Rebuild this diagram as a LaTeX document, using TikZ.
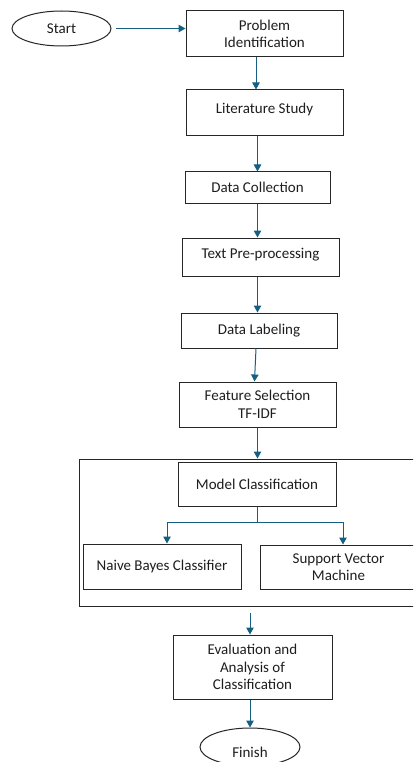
\documentclass[tikz,border=0pt]{standalone}
\usepackage{fontspec}
\setmainfont{Carlito}
\usetikzlibrary{arrows.meta,shapes.geometric,calc}
\definecolor{arrblue}{RGB}{21,96,130}
\definecolor{txt}{RGB}{30,30,30}
\begin{document}
\begin{tikzpicture}[x=1pt,y=-1pt,
  box/.style={draw=black!85,line width=1pt,rectangle,inner sep=0pt,align=center,font=\fontsize{15}{17.5}\selectfont,text=txt},
  oval/.style={draw=black!85,line width=1pt,ellipse,inner sep=0pt,font=\fontsize{15}{17.5}\selectfont,text=txt},
  lbl/.style={inner sep=0pt,font=\fontsize{15}{17.5}\selectfont,text=txt},
  arr/.style={draw=arrblue,line width=1pt,-{Triangle[length=7pt,width=7.5pt]}},
  conn/.style={draw=arrblue,line width=1pt}]
\clip (0,0) rectangle (413,762);
\fill[white] (0,0) rectangle (413,762);
\node[oval,minimum width=99pt,minimum height=35pt] (start) at (61.5,28.5) {Start};
\node[box,minimum width=157pt,minimum height=46pt] (prob) at (264.5,34) {Problem\\Identification};
\node[box,minimum width=157pt,minimum height=46pt,text depth=10pt] (lit) at (264.5,113) {Literature Study};
\node[box,minimum width=145pt,minimum height=31pt] (dc) at (257.5,187.5) {Data Collection};
\node[box,minimum width=157pt,minimum height=38pt,text depth=7pt] (tp) at (260.5,257) {Text Pre-processing};
\node[box,minimum width=156pt,minimum height=35pt] (dl) at (259,330.5) {Data Labeling};
\node[box,minimum width=157pt,minimum height=45pt] (fs) at (257.5,404.5) {Feature Selection\\TF-IDF};
\node[draw=black!85,line width=1pt,rectangle,inner sep=0pt,minimum width=341pt,minimum height=147pt] (outer) at (249.5,532.5) {};
\node[box,minimum width=158pt,minimum height=44pt] (mc) at (257,484) {Model Classification};
\node[box,minimum width=158pt,minimum height=45pt] (nb) at (162,566.5) {Naive Bayes Classifier};
\node[box,minimum width=157pt,minimum height=44pt] (svm) at (338.5,567) {Support Vector\\Machine};
\node[box,minimum width=159pt,minimum height=64pt] (eval) at (252.5,667) {Evaluation and\\Analysis of\\Classification};
\node[oval,minimum width=100pt,minimum height=38pt] (fin) at (250,747) {};
\node[lbl] (fintext) at (250,752) {Finish};
\coordinate (br) at (257,522);
\draw[arr,shorten <=4pt] (start.east) -- (start.east -| prob.west);
\draw[arr] ($(prob.south)+(-8.5,0)$) -- ($(lit.north)+(-8.5,0)$);
\draw[arr] (lit.south -| dc.north) -- (dc.north);
\draw[arr] (dc.south) -- (tp.north -| dc.south);
\draw[arr] (tp.south -| dc.south) -- (dl.north -| dc.south);
\draw[arr] ($(dl.south)+(-3,0)$) -- ($(fs.north)+(-3,0)$);
\draw[arr] (fs.south) -- (outer.north -| fs.south);
\draw[conn] (mc.south) -- (br);
\draw[arr] (br) -| (nb.north -| 167,0);
\draw[arr] (br) -| (svm.north -| 343,0);
\draw[arr,shorten <=6pt] (outer.south -| eval.north) ++(-2.5,0) -- ($(eval.north)+(-2.5,0)$);
\draw[arr] ($(eval.south)+(-2.5,0)$) -- (fin.north);
\end{tikzpicture}
\end{document}
